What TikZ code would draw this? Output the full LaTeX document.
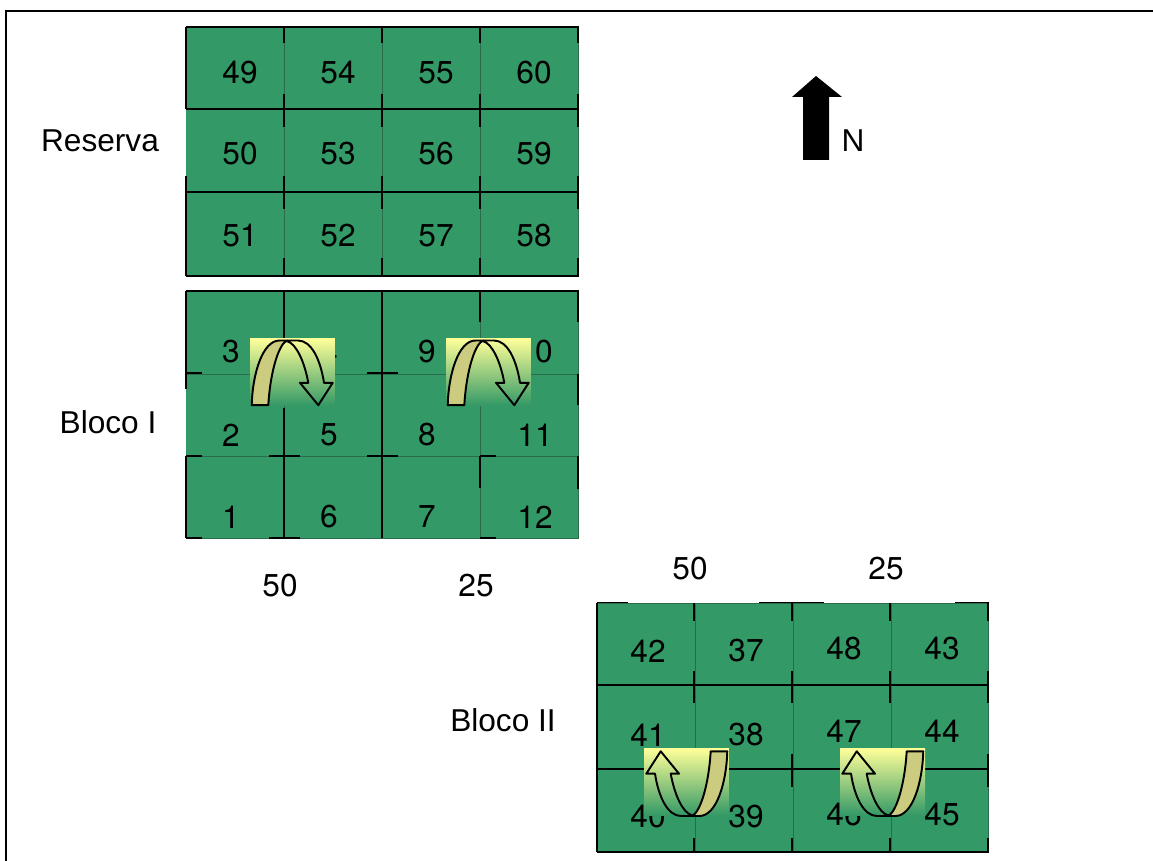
\documentclass[tikz,border=0pt]{standalone}
\usepackage{fontspec}
\setmainfont{Liberation Sans}
\newfontfamily\numfont{TeX Gyre Heros}
\usetikzlibrary{arrows.meta,positioning,calc}
\definecolor{plotgreen}{HTML}{339966}
\definecolor{plotline}{HTML}{2A6B4C}
\definecolor{arrowback}{HTML}{CCCC80}
\definecolor{arrowtop}{HTML}{FFFF99}
\definecolor{arrowmid}{HTML}{BFD68A}
\tikzset{
  pics/turnarrow/.style={code={
    % coordinates relative to the centre of the shaded box
    \filldraw[arrowline, fill=arrowback] (-40.8,33.2) .. controls (-40,2) and (-30,-31.5) .. (-13,-31.5)
      -- (-5.2,-31.5) .. controls (-13,-29) and (-22,-3) .. (-24.2,33.2) -- cycle;
    \draw[arrowline] (-5.2,-30.8) .. controls (4,-28) and (12,-10) .. (15.8,10.8)
      -- (7.5,10.8) -- (25.8,33.2) -- (40.2,10.8) -- (31.5,10.8)
      .. controls (28,-12) and (19,-31.5) .. (5.5,-31.5) -- (-5.2,-31.5);
  }}
}
\begin{document}
\begin{tikzpicture}[x=0.02cm, y=-0.02cm, font=\fontsize{18}{21}\selectfont,
  num/.style={inner sep=0pt, font=\fontsize{18}{21}\selectfont\numfont},
  lab/.style={inner sep=0pt},
  blk/.style={line width=1.3pt, line cap=butt},
  thin line/.style={plotline, line width=0.5pt},
  arrowline/.style={black, line width=1.1pt, line join=round},
  shbox/.style={minimum width=1.7cm, minimum height=1.34cm, inner sep=0pt,
                top color=arrowtop, middle color=arrowmid, bottom color=plotgreen}]
  \useasboundingbox (0,0) rectangle (1153,861);

  % frame
  \draw[blk] (6,861) -- (6,11) -- (1153,11);

  % plots
  \fill[plotgreen] (186,27) rectangle (579,276);
  \fill[plotgreen] (186,291) rectangle (579,538);
  \fill[plotgreen] (597,603) rectangle (989,852);

  \foreach \x in {284,382,480,578} {
    \draw[thin line] (\x,27) -- (\x,276);
    \draw[thin line] (\x,291) -- (\x,538);
  }
  \foreach \x in {695,793,891,988}
    \draw[thin line] (\x,603) -- (\x,852);
  \foreach \y in {374,456,538}
    \draw[thin line] (186,\y) -- (579,\y);
  \draw[thin line] (597,603) -- (989,603);

  % Reserva lines
  \foreach \y in {27,109,192,276}
    \draw[blk] (186,\y) -- (579,\y);
  \draw[blk] (186,27) -- (186,109);
  \draw[blk] (186,176) -- (186,276);
  \foreach \x in {284,382,480,578}
    \foreach \a/\b in {27/43,94/127,176/209,258/276}
      \draw[blk] (\x,\a) -- (\x,\b);

  % Bloco I lines
  \draw[blk] (186,291) -- (579,291);
  \draw[blk] (186,291) -- (186,389);
  \draw[blk] (186,456) -- (186,538);
  \draw[blk] (284,291) -- (284,345);
  \draw[blk] (284,408) -- (284,538);
  \draw[blk] (382,291) -- (382,538);
  \draw[blk] (480,291) -- (480,322);
  \draw[blk] (480,456) -- (480,488);
  \foreach \a/\b in {291/322,374/405,456/489}
    \draw[blk] (578,\a) -- (578,\b);
  \foreach \a/\b in {186/202,367/398}
    \draw[blk] (\a,373) -- (\b,373);
  \foreach \a/\b in {186/202,269/300,367/398,480/496}
    \draw[blk] (\a,456) -- (\b,456);
  \foreach \a/\b in {186/202,269/300,480/496}
    \draw[blk] (\a,538) -- (\b,538);

  % Bloco II lines
  \foreach \a/\b in {597/628,759/824,955/989}
    \draw[line width=0.9pt] (\a,602.5) -- (\b,602.5);
  \foreach \y in {685,769,852}
    \draw[blk] (597,\y) -- (989,\y);
  \draw[blk] (597,603) -- (597,852);
  \foreach \x in {694,792,890,988}
    \foreach \a/\b in {603/621,671/703,754/787,838/852}
      \draw[blk] (\x,\a) -- (\x,\b);

  % plot numbers
  \foreach \t/\x/\y in {49/240/73,54/338/73,55/436/73,60/534/73,
      50/240/154,53/338/154,56/436/154,59/534/154,
      51/240/236,52/338/236,57/436/236,58/534/236,
      3/231/352,4/329/352,9/427/352,10/535/352,
      2/231/435,5/329/435,8/427/435,11/535/435,
      1/231/517,6/329/517,7/427/517,12/535/517,
      42/648/651,37/746/651,48/844/649,43/942/649,
      41/648/735,38/746/735,47/844/731,44/942/731,
      40/648/817,39/746/817,46/844/815,45/942/815}
    \node[num] (p\t) at (\x,\y) {\t};

  % turning arrows
  \node[shbox] (turnA) at (292.5,372) {};
  \node[shbox] (turnB) at (488.5,372) {};
  \node[shbox] (turnC) at (686.5,782) {};
  \node[shbox] (turnD) at (882.5,782) {};
  \pic at (turnA.center) {turnarrow};
  \pic at (turnB.center) {turnarrow};
  \pic[rotate=180] at ($(turnC.center)+(0,2.5)$) {turnarrow};
  \pic[rotate=180] at ($(turnD.center)+(0,2.5)$) {turnarrow};

  % north arrow
  \fill[black] (803,160) -- (803,97) -- (792,97) -- (816,76) -- (842,97)
    -- (829,97) -- (829,160) -- cycle;
  \node[lab] (north) at (853,141) {N};

  % labels
  \node[lab] (reserva) at (100,141) {Reserva};
  \node[lab] (blocoA) at (108,422) {Bloco I};
  \node[lab] (blocoB) at (503,720) {Bloco II};
  \node[num] (doseA) at (280,586) {50};
  \node[num] (doseB) at (476,586) {25};
  \node[num] (doseC) at (690,569) {50};
  \node[num] (doseD) at (886,569) {25};
\end{tikzpicture}
\end{document}
